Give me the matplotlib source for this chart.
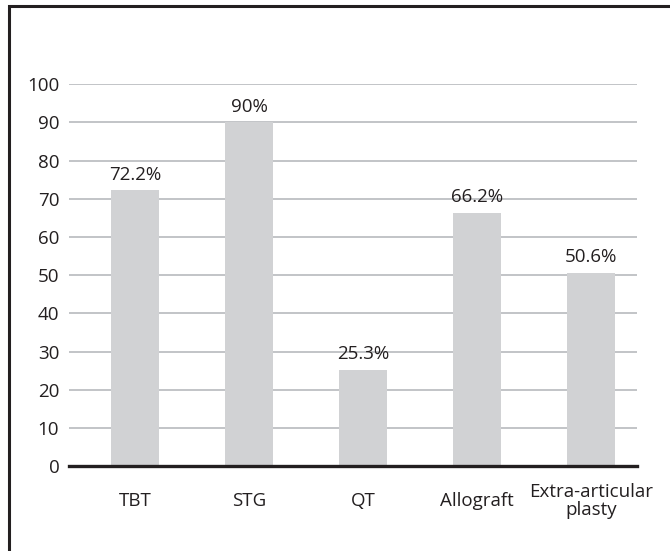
import matplotlib
matplotlib.use("Agg")
import matplotlib.pyplot as plt
from matplotlib.patches import Rectangle

# graft types and the percentages printed over the bars
categories = ["TBT", "STG", "QT", "Allograft", "Extra-articular\nplasty"]
values = [72.2, 90, 25.3, 66.2, 50.6]
labels = ["72.2%", "90%", "25.3%", "66.2%", "50.6%"]
yticks = [0, 10, 20, 30, 40, 50, 60, 70, 80, 90, 100]

plt.rcParams["font.family"] = ["Open Sans", "DejaVu Sans"]
txt = "#231f20"
fs = 13.5

fig = plt.figure(figsize=(6.7, 5.51), dpi=100)
ax = fig.add_axes([0.103, 0.154, 0.848, 0.693])

x = list(range(len(categories)))
ax.bar(x, values, width=0.42, color="#d1d2d4", zorder=2)

for xi, v, lab in zip(x, values, labels):
    ax.annotate(lab, (xi, v), xytext=(0, 5), textcoords="offset points",
                ha="center", va="bottom", fontsize=fs, color=txt)

ax.set_ylim(0, 100)
ax.set_xlim(-0.579, 4.403)
ax.set_yticks(yticks)
ax.grid(axis="y", color="#b8babd", linewidth=1.2, zorder=0)
ax.set_xticks(x)
ax.set_xticklabels(categories, fontsize=fs, color=txt, linespacing=1.0)
for lbl in ax.get_xticklabels():
    lbl.set_va("center")
ax.tick_params(axis="x", length=0, pad=25)
ax.tick_params(axis="y", length=0, pad=7, labelsize=fs, labelcolor=txt)

for s in ["top", "right", "left"]:
    ax.spines[s].set_visible(False)
ax.spines["bottom"].set_color(txt)
ax.spines["bottom"].set_linewidth(2.4)
ax.spines["bottom"].set_zorder(3)

# outer frame, cut off at right and bottom like the source image
fig.patches.append(Rectangle((9 / 670, -0.1), 1.2, 1 - 6 / 551 + 0.1,
                             transform=fig.transFigure, fill=False,
                             edgecolor=txt, linewidth=2.2))

fig.savefig("out.png", dpi=100)
